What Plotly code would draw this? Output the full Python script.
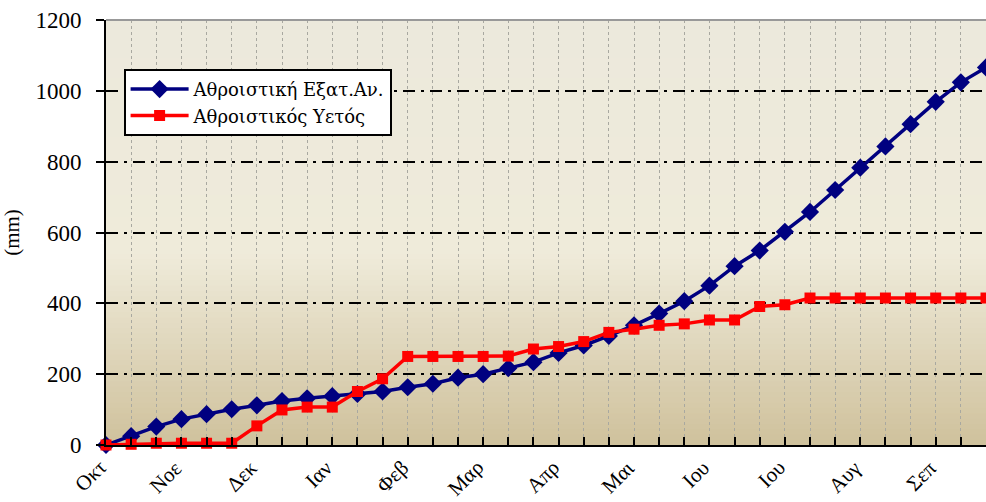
import plotly.graph_objects as go

# ---- data ----
months = ["Οκτ", "Νοε", "Δεκ", "Ιαν", "Φεβ", "Μαρ", "Απρ", "Μαι", "Ιου", "Ιου", "Αυγ", "Σεπ"]
evap_cum = [0, 25, 52, 73, 87, 101, 112, 124, 132, 138, 144, 151, 163, 173, 190, 200, 217, 234,
            260, 281, 308, 338, 371, 406, 450, 505, 549, 602, 658, 720, 783, 843, 906, 969, 1024, 1066]
rain_cum = [0, 2, 5, 5, 5, 5, 54, 99, 107, 107, 151, 187, 250, 250, 250, 250, 251, 271,
            278, 292, 318, 327, 338, 342, 353, 353, 391, 396, 415, 415, 415, 415, 415, 415, 415, 415]
name_evap = "Αθροιστική Εξατ.Αν."
name_rain = "Αθροιστικός Υετός"
y_title = "(mm)"

n = len(evap_cum)
xs = list(range(n))
month_pos = xs[::3]

FONT = "Liberation Serif"
LFONT = "DejaVu Serif"

fig = go.Figure()
fig.add_trace(go.Scatter(
    x=xs, y=evap_cum, name=name_evap, mode="lines+markers",
    line=dict(color="#000080", width=3.5),
    marker=dict(symbol="diamond", size=14, color="#000080"),
    cliponaxis=False,
))
fig.add_trace(go.Scatter(
    x=xs, y=rain_cum, name=name_rain, mode="lines+markers",
    line=dict(color="#FF0000", width=3.5),
    marker=dict(symbol="square", size=11, color="#FF0000"),
    cliponaxis=False,
))

def hex2rgb(h):
    h = h.lstrip("#")
    return tuple(int(h[i:i + 2], 16) for i in (0, 2, 4))

def lerp(c1, c2, t):
    return tuple(round(a + (b - a) * t) for a, b in zip(c1, c2))

c_bot = hex2rgb("#CFC19C")
c_mid = hex2rgb("#EFEBDA")
c_top = hex2rgb("#ECE9DC")
N = 80
shapes = []
for k in range(N):
    f0 = k / N
    f1 = (k + 1) / N
    fc = (f0 + f1) / 2
    if fc < 0.45:
        c = lerp(c_bot, c_mid, fc / 0.45)
    else:
        c = lerp(c_mid, c_top, (fc - 0.45) / 0.55)
    shapes.append(dict(type="rect", xref="x domain", yref="y domain",
                       x0=0, x1=1, y0=f0, y1=min(1, f1 + 0.004),
                       fillcolor="rgb(%d,%d,%d)" % c, line=dict(width=0),
                       layer="below"))
shapes.append(dict(type="line", xref="x domain", yref="y domain", x0=0, x1=1, y0=1, y1=1,
                   line=dict(color="#999999", width=2), layer="above"))

# month labels, rotated 45 degrees, ending at their tick
annotations = []
for i, m in zip(month_pos, months):
    annotations.append(dict(
        x=i, y=0, xref="x", yref="y", text=m, showarrow=False,
        textangle=-45, xanchor="right", yanchor="top",
        xshift=8, yshift=-8,
        font=dict(family=FONT, size=21, color="black"),
    ))

fig.update_layout(
    width=986, height=502,
    margin=dict(l=106, r=0, t=20, b=57, autoexpand=False),
    paper_bgcolor="white",
    plot_bgcolor="#ECE9DC",
    font=dict(family=FONT, size=21, color="black"),
    shapes=shapes,
    annotations=annotations,
    showlegend=True,
    legend=dict(
        x=0.02, y=0.885, xanchor="left", yanchor="top",
        bgcolor="white", bordercolor="black", borderwidth=2,
        font=dict(family=LFONT, size=18, color="black"),
        tracegroupgap=0, itemwidth=58,
    ),
    xaxis=dict(
        range=[0, n - 1], tickmode="array", tickvals=xs, showticklabels=False,
        ticks="inside", ticklen=8, tickwidth=2, tickcolor="black",
        showline=True, linecolor="black", linewidth=2,
        showgrid=True, gridcolor="#A8A8A0", gridwidth=1, griddash="dot",
        zeroline=False, automargin=False,
    ),
    yaxis=dict(
        range=[0, 1200], tickmode="array", tickvals=[0, 200, 400, 600, 800, 1000, 1200],
        ticks="outside", ticklen=8, tickwidth=2, tickcolor="black",
        showline=True, linecolor="black", linewidth=2,
        showgrid=True, gridcolor="black", gridwidth=2, griddash="12px,6px,3px,6px",
        zeroline=False, tickfont=dict(family=FONT, size=23), automargin=False,
        ticklabelstandoff=10,
        title=dict(text=y_title, font=dict(family=FONT, size=21), standoff=22),
    ),
)

fig.write_html(
    "out.html",
    config={"displayModeBar": False},
    post_script="document.body.style.margin='0';document.body.style.padding='0';",
)
